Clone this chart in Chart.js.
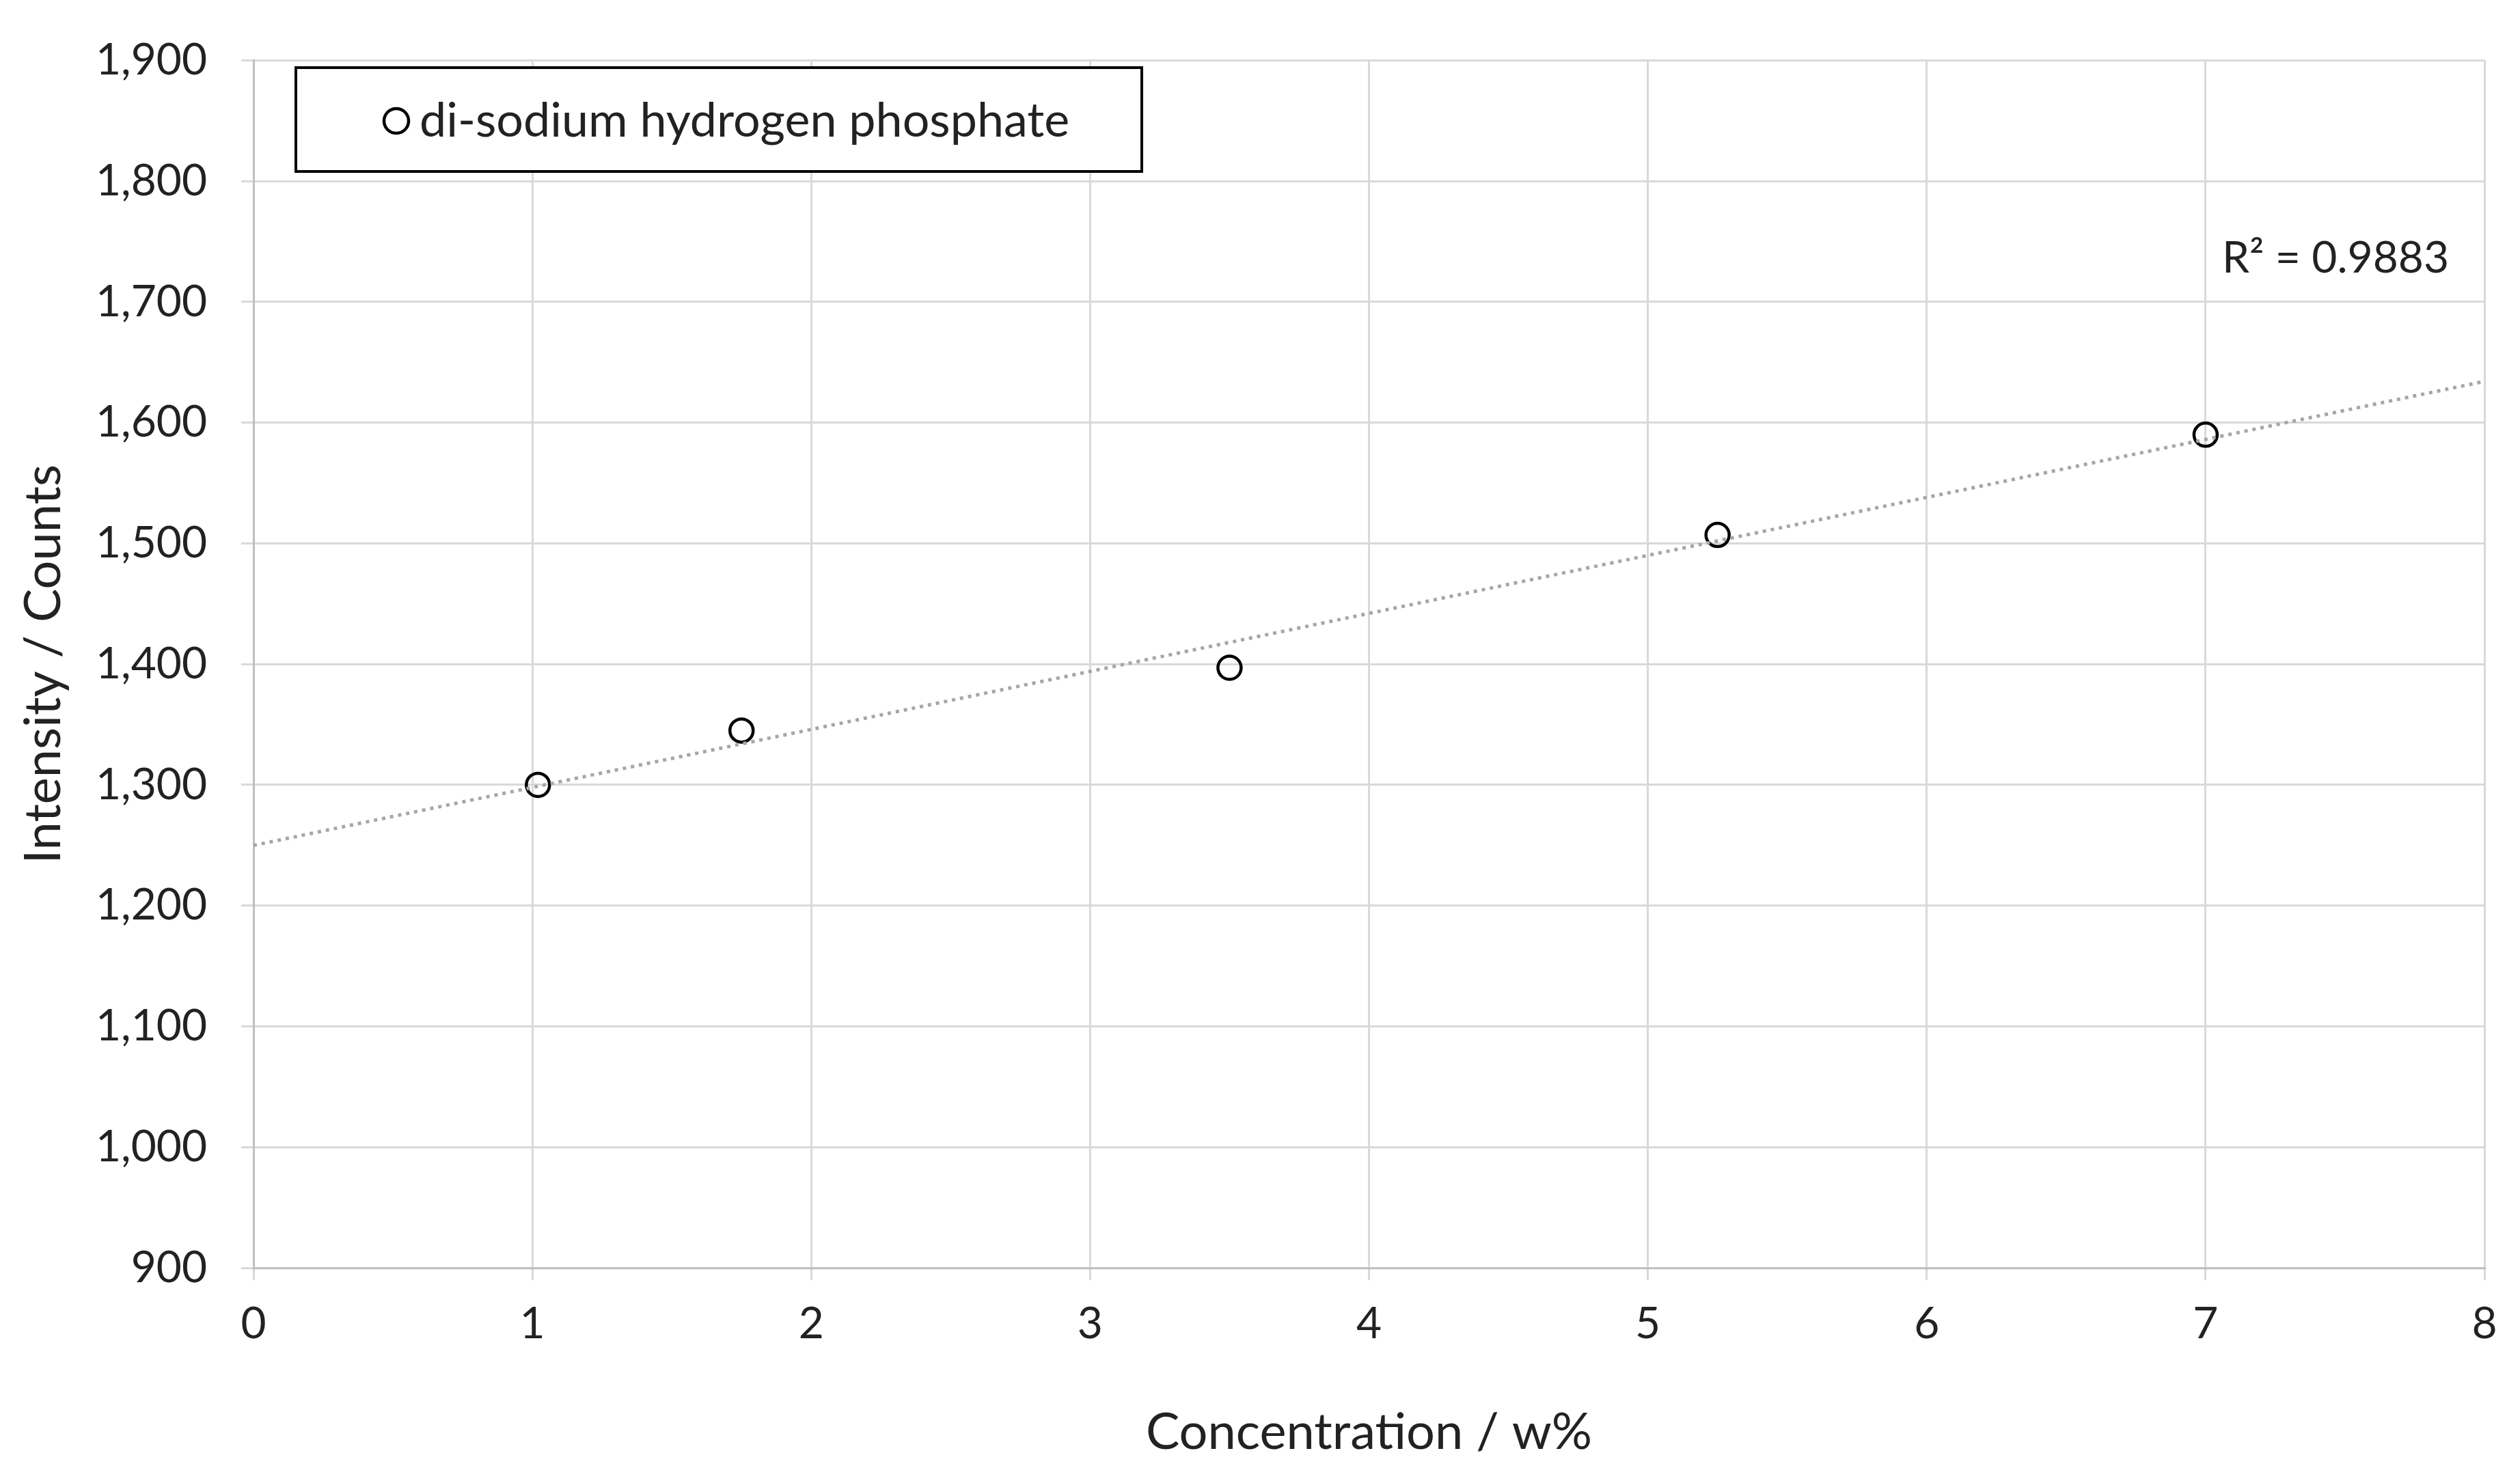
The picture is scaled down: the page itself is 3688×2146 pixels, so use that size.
<!DOCTYPE html>
<html>
<head>
<meta charset="utf-8">
<script src="https://cdn.jsdelivr.net/npm/chart.js@4"></script>
<style>
  html, body { margin: 0; padding: 0; background: #fff; }
  #wrap { width: 3688px; height: 2146px; }
</style>
</head>
<body>
<div id="wrap"><canvas id="c"></canvas></div>
<script>
const concentration = [1.02, 1.75, 3.5, 5.25, 7];
const intensity = [1300, 1345, 1397, 1507, 1590];
const seriesLabel = 'di-sodium hydrogen phosphate';
const r2Label = 'R² = 0.9883';
const xRange = [0, 8];

// linear least-squares trendline
const n = concentration.length;
const mx = concentration.reduce((a, b) => a + b, 0) / n;
const my = intensity.reduce((a, b) => a + b, 0) / n;
let sxy = 0, sxx = 0;
concentration.forEach((x, i) => { sxy += (x - mx) * (intensity[i] - my); sxx += (x - mx) * (x - mx); });
const slope = sxy / sxx;
const icpt = my - slope * mx;
const trend = xRange.map(x => ({ x: x, y: icpt + slope * x }));

const FONT = 'Lato, "Open Sans", sans-serif';

const overlay = {
    id: 'overlay',
    afterDraw(chart) {
        const ctx = chart.ctx;
        ctx.save();
        // legend box
        ctx.fillStyle = '#fff';
        ctx.fillRect(433, 99, 1238, 152);
        ctx.strokeStyle = '#000';
        ctx.lineWidth = 4;
        ctx.strokeRect(433, 99, 1238, 152);
        ctx.beginPath();
        ctx.arc(580, 177, 18, 0, Math.PI * 2);
        ctx.lineWidth = 4.5;
        ctx.stroke();
        ctx.fillStyle = '#222';
        ctx.font = '70px ' + FONT;
        ctx.textBaseline = 'middle';
        ctx.fillText(seriesLabel, 614, 177);
        // R² label
        ctx.font = '64px ' + FONT;
        ctx.fillText(r2Label, 3252, 378);
        ctx.restore();
    }
};

new Chart(document.getElementById('c'), {
    type: 'scatter',
    data: {
        datasets: [
            {
                label: 'trend', data: trend, showLine: true, pointRadius: 0,
                borderColor: '#a6a6a6', borderWidth: 5, borderDash: [5, 7]
            },
            {
                label: seriesLabel,
                data: concentration.map((x, i) => ({ x: x, y: intensity[i] })),
                pointRadius: 17, borderColor: '#000', borderWidth: 4.5,
                backgroundColor: 'rgba(255,255,255,0)'
            }
        ]
    },
    options: {
        responsive: true, maintainAspectRatio: false, animation: false,
        layout: { padding: { left: 0, top: 54, right: 52, bottom: 0 } },
        plugins: { legend: { display: false }, tooltip: { enabled: false } },
        scales: {
            x: {
                min: 0, max: 8,
                ticks: { stepSize: 1, color: '#222', font: { size: 64, family: FONT }, padding: 26 },
                grid: { color: '#d9d9d9', lineWidth: 3, tickLength: 18 },
                border: { color: '#bfbfbf', width: 3 },
                title: { display: true, text: 'Concentration / w%', color: '#222', font: { size: 74, family: FONT }, padding: { top: 20 } },
                afterFit(s) { s.height = 290; }
            },
            y: {
                min: 900, max: 1900,
                ticks: { stepSize: 100, color: '#222', font: { size: 64, family: FONT }, padding: 50,
                         callback: v => v.toLocaleString('en-US') },
                grid: { color: '#d9d9d9', lineWidth: 3, tickLength: 18 },
                border: { color: '#bfbfbf', width: 3 },
                title: { display: true, text: 'Intensity / Counts', color: '#222', font: { size: 74, family: FONT }, padding: { top: 20, bottom: 0 } },
                afterFit(s) { s.width = 371; }
            }
        }
    },
    plugins: [overlay]
});
</script>
</body>
</html>
